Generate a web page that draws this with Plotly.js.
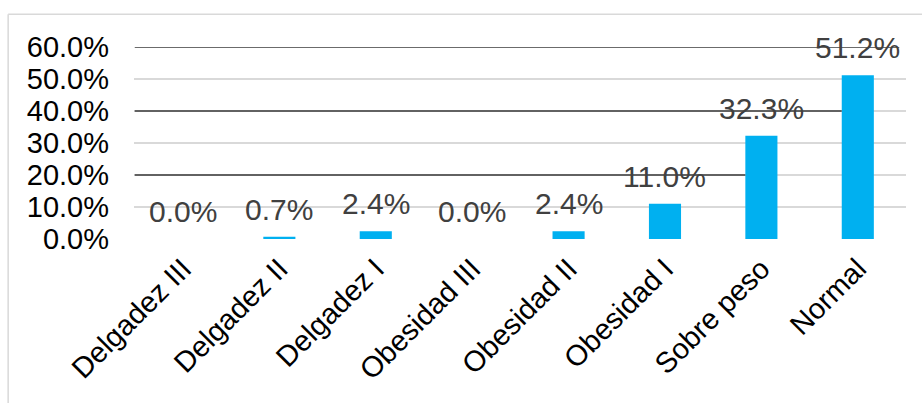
<!DOCTYPE html>
<html>
<head>
<meta charset="utf-8">
<script src="https://cdn.plot.ly/plotly-3.0.1.min.js"></script>
<style>html,body{margin:0;padding:0;background:#fff;}#chart{width:922px;height:403px;}</style>
</head>
<body>
<div id="chart"></div>
<script>
const categories = ["Delgadez III", "Delgadez II", "Delgadez I", "Obesidad III", "Obesidad II", "Obesidad I", "Sobre peso", "Normal"];
const values = [0.0, 0.007, 0.024, 0.0, 0.024, 0.110, 0.323, 0.512];
const valueLabels = ["0.0%", "0.7%", "2.4%", "0.0%", "2.4%", "11.0%", "32.3%", "51.2%"];
const yTickVals = [0, 0.1, 0.2, 0.3, 0.4, 0.5, 0.6];
const yTickText = ["0.0%", "10.0%", "20.0%", "30.0%", "40.0%", "50.0%", "60.0%"];

const font = "Liberation Sans, Arial, sans-serif";

const trace = {
  type: "bar",
  x: categories,
  y: values,
  marker: {color: "#00B0F0"},
  hoverinfo: "none"
};

const annotations = categories.map((c, i) => ({
  x: c, y: values[i], xref: "x", yref: "y",
  text: valueLabels[i], showarrow: false,
  yanchor: "bottom", xanchor: "center", yshift: 9,
  font: {family: font, size: 30, color: "#404040"}
}));

const darkLine = {color: "#3a3a3a", width: 1.5};
const shapes = [
  {type: "line", xref: "x", yref: "y", x0: -0.5, x1: 7.43, y0: 0.6, y1: 0.6, line: darkLine, layer: "above"},
  {type: "line", xref: "x", yref: "y", x0: -0.5, x1: 6.833, y0: 0.4, y1: 0.4, line: darkLine, layer: "above"},
  {type: "line", xref: "x", yref: "y", x0: -0.5, x1: 5.833, y0: 0.2, y1: 0.2, line: darkLine, layer: "above"},
  {type: "line", xref: "paper", yref: "paper", x0: -0.163, x1: 1.03, y0: 1.17, y1: 1.17, line: {color: "#d9d9d9", width: 1.5}, layer: "below"},
  {type: "line", xref: "paper", yref: "paper", x0: -0.163, x1: -0.163, y0: 1.17, y1: -0.9, line: {color: "#d9d9d9", width: 1.5}, layer: "below"}
];

const layout = {
  width: 922, height: 403,
  margin: {l: 134, r: 16, t: 47, b: 164},
  paper_bgcolor: "#ffffff", plot_bgcolor: "#ffffff",
  bargap: 0.667,
  showlegend: false,
  font: {family: font, size: 28, color: "#000"},
  xaxis: {
    type: "category",
    tickangle: -45,
    tickfont: {family: font, size: 29, color: "#000"},
    showgrid: false, zeroline: false, showline: false, ticks: "",
    ticklabelstandoff: 6,
    fixedrange: true
  },
  yaxis: {
    range: [0, 0.6],
    tickvals: yTickVals, ticktext: yTickText,
    tickfont: {family: font, size: 29, color: "#000"},
    showgrid: true, gridcolor: "#d9d9d9", gridwidth: 1.3,
    zeroline: false, showline: false, ticks: "",
    ticklabelstandoff: 24,
    fixedrange: true
  },
  annotations: annotations,
  shapes: shapes
};

Plotly.newPlot("chart", [trace], layout, {displayModeBar: false, staticPlot: true});
</script>
</body>
</html>
